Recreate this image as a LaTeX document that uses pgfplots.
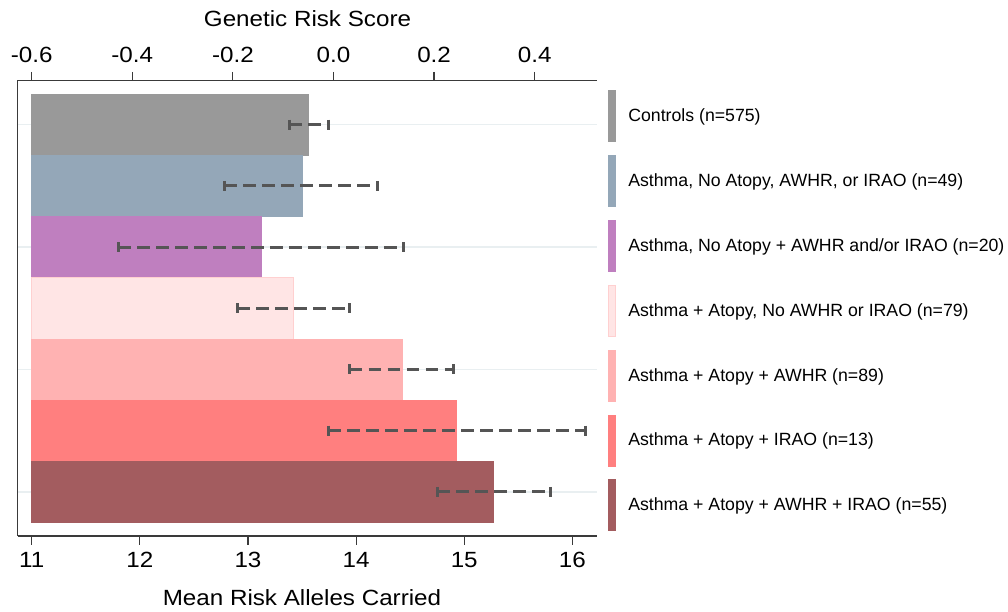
\documentclass[border=0pt]{standalone}
\usepackage{fontspec}
\setmainfont{Liberation Sans}
\newfontfamily\axfont[FakeStretch=1.1]{Liberation Sans}
\usepackage{pgfplots}
\pgfplotsset{compat=1.18}
\definecolor{cCtrl}{HTML}{999999}
\definecolor{cBlue}{HTML}{94A7B8}
\definecolor{cPurp}{HTML}{BF7FBF}
\definecolor{cLp}{HTML}{FFE5E5}
\definecolor{cLpE}{HTML}{FFD0D0}
\definecolor{cPink}{HTML}{FFB2B2}
\definecolor{cRed}{HTML}{FF7F7F}
\definecolor{cDark}{HTML}{A35C5F}
\definecolor{errc}{HTML}{555555}
\definecolor{axc}{HTML}{3A3A3A}
\definecolor{gridc}{HTML}{E9EFF1}
\newcommand{\axsize}{\axfont\fontsize{22}{26}\selectfont}
\newcommand{\legsize}{\fontsize{17.7}{21}\selectfont}
\begin{document}
\begin{tikzpicture}
\path (0,0) rectangle (1008pt,611pt);
\begin{axis}[
  at={(17.7pt,75pt)}, anchor=south west,
  scale only axis, width=579.3pt, height=455.5pt,
  xmin=10.870, xmax=16.228, ymin=-0.723, ymax=6.723,
  axis x line*=bottom, axis y line*=left,
  axis line style={color=axc, line width=1.2pt},
  xtick={11,12,13,14,15,16},
  xticklabels={11,12,13,14,15,16},
  x tick style={color=axc, line width=1.2pt},
  major tick length=8.5pt, tick align=outside,
  xticklabel style={font=\axsize, anchor=base, yshift=-23.3pt},
  ytick={0,2,4,6}, yticklabels={}, y tick style={draw=none},
  ymajorgrids, grid style={color=gridc, line width=1.5pt},
  minor tick num=0,
  legend cell align=left,
  legend image code/.code={\fill[#1] (0pt,-25.5pt) rectangle (7pt,25.5pt);},
  legend style={at={(1.01847,0.97914)}, anchor=north west, draw=none, fill=none,
    inner sep=0pt, outer sep=0pt, row sep=13.3pt, column sep=13pt,
    nodes={inner sep=0pt, outer sep=0pt, font=\legsize}},
]
% bars: mean risk alleles carried
\addplot[fill=cCtrl, draw=cCtrl, line width=0.6pt] coordinates {(11,5.5) (13.56,5.5) (13.56,6.5) (11,6.5)} -- cycle;
\addlegendentry{Controls (n=575)}
\addplot[fill=cBlue, draw=cBlue, line width=0.6pt] coordinates {(11,4.5) (13.50,4.5) (13.50,5.5) (11,5.5)} -- cycle;
\addlegendentry{Asthma, No Atopy, AWHR, or IRAO (n=49)}
\addplot[fill=cPurp, draw=cPurp, line width=0.6pt] coordinates {(11,3.5) (13.12,3.5) (13.12,4.5) (11,4.5)} -- cycle;
\addlegendentry{Asthma, No Atopy + AWHR and/or IRAO (n=20)}
\addplot[fill=cLp, draw=cLpE, line width=0.6pt] coordinates {(11,2.5) (13.42,2.5) (13.42,3.5) (11,3.5)} -- cycle;
\addlegendentry{Asthma + Atopy, No AWHR or IRAO (n=79)}
\addplot[fill=cPink, draw=cPink, line width=0.6pt] coordinates {(11,1.5) (14.43,1.5) (14.43,2.5) (11,2.5)} -- cycle;
\addlegendentry{Asthma + Atopy + AWHR (n=89)}
\addplot[fill=cRed, draw=cRed, line width=0.6pt] coordinates {(11,0.5) (14.93,0.5) (14.93,1.5) (11,1.5)} -- cycle;
\addlegendentry{Asthma + Atopy + IRAO (n=13)}
\addplot[fill=cDark, draw=cDark, line width=0.6pt] coordinates {(11,-0.5) (15.27,-0.5) (15.27,0.5) (11,0.5)} -- cycle;
\addlegendentry{Asthma + Atopy + AWHR + IRAO (n=55)}
% error bars
\pgfplotsset{errbar/.style={errc, line width=3pt, dash pattern=on 12.5pt off 6.5pt,
  mark=|, mark size=5pt, mark options={solid, line width=3pt}, forget plot}}
\addplot[errbar] coordinates {(13.38,6) (13.74,6)};
\addplot[errbar] coordinates {(12.78,5) (14.20,5)};
\addplot[errbar] coordinates {(11.80,4) (14.44,4)};
\addplot[errbar] coordinates {(12.90,3) (13.935,3)};
\addplot[errbar] coordinates {(13.94,2) (14.905,2)};
\addplot[errbar] coordinates {(13.74,1) (16.12,1)};
\addplot[errbar] coordinates {(14.75,0) (15.80,0)};
\end{axis}
\begin{axis}[
  at={(17.7pt,75pt)}, anchor=south west,
  scale only axis, width=579.3pt, height=455.5pt,
  xmin=-0.6278, xmax=0.5239, ymin=0, ymax=1,
  axis x line*=top, axis y line=none,
  axis line style={color=axc, line width=1.2pt},
  xtick={-0.6,-0.4,-0.2,0,0.2,0.4},
  xticklabels={-0.6,-0.4,-0.2,0.0,0.2,0.4},
  x tick style={color=axc, line width=1.2pt},
  major tick length=8.5pt, tick align=outside,
  xticklabel style={font=\axsize, anchor=base, yshift=9.2pt},
  minor tick num=0,
]
\end{axis}
\node[anchor=base, font=\axsize] at (307.5pt,584.3pt) {Genetic Risk Score};
\node[anchor=base, font=\axsize] at (302pt,5.3pt) {Mean Risk Alleles Carried};
\end{tikzpicture}
\end{document}
